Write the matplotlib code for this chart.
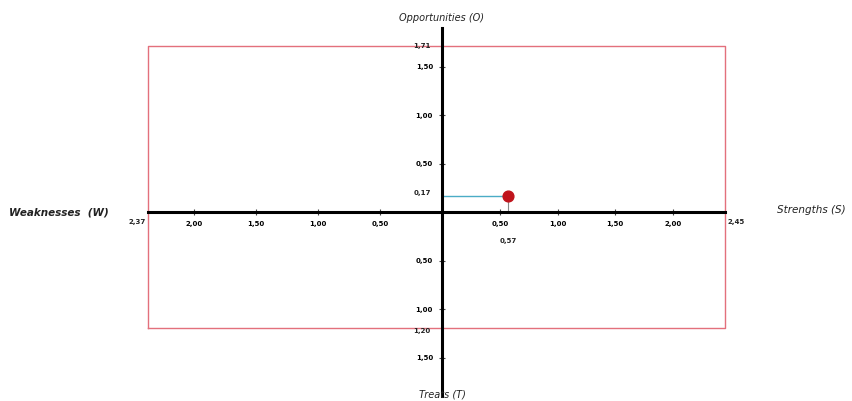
import matplotlib.pyplot as plt
import numpy as np

# SWOT position values
x_left, x_right = -2.37, 2.45      # W / S extremes
y_bottom, y_top = -1.20, 1.71      # T / O extremes
point_x, point_y = 0.57, 0.17
x_ticks = [-2.0, -1.5, -1.0, -0.5, 0.5, 1.0, 1.5, 2.0]
y_ticks = [-1.5, -1.0, -0.5, 0.5, 1.0, 1.5]

# left half of the x axis is drawn a bit wider than the right half
K = 124 / 115.5


def fwd(x):
    x = np.asarray(x, dtype=float)
    return np.where(x < 0, x * K, x)


def inv(x):
    x = np.asarray(x, dtype=float)
    return np.where(x < 0, x / K, x)


def fmt(v):
    return f"{abs(v):.2f}".replace(".", ",")


fig = plt.figure(figsize=(8.53, 4.01), dpi=100)
ax = fig.add_axes([0, 0, 1, 1])
ax.set_xscale("function", functions=(fwd, inv))
ax.set_xlim(-3.564, 3.558)
ax.set_ylim(-1.948, 2.186)

for s in ["top", "right"]:
    ax.spines[s].set_visible(False)
ax.spines["left"].set_position("zero")
ax.spines["bottom"].set_position("zero")
ax.spines["left"].set_bounds(-1.90, 1.90)
ax.spines["bottom"].set_bounds(x_left, x_right)
ax.spines["left"].set_linewidth(2.2)
ax.spines["bottom"].set_linewidth(2.2)

ax.set_xticks(x_ticks)
ax.set_xticklabels([fmt(v) for v in x_ticks])
ax.set_yticks(y_ticks)
ax.set_yticklabels([fmt(v) for v in y_ticks])
ax.tick_params(axis="both", direction="inout", length=5, width=0.8, color="#444444",
               labelsize=5, pad=4)
for lab in ax.get_xticklabels() + ax.get_yticklabels():
    lab.set_fontweight("bold")

# red frame
ax.plot([x_left, x_right, x_right, x_left, x_left],
        [y_bottom, y_bottom, y_top, y_top, y_bottom],
        color="#e3707c", lw=1.0, zorder=1)

# position point with guide lines
ax.plot([0, point_x], [point_y, point_y], color="#4bacc6", lw=1.0, zorder=2)
ax.plot([point_x, point_x], [0, point_y], color="#888888", lw=0.8, zorder=2)
ax.scatter([point_x], [point_y], s=60, color="#c0141c", zorder=3)

lab_kw = dict(fontsize=5, fontweight="bold", color="#222222")
ax.text(x_left - 0.02, -0.10, fmt(x_left), ha="right", va="center", **lab_kw)
ax.text(x_right + 0.02, -0.10, fmt(x_right), ha="left", va="center", **lab_kw)
ax.text(-0.09, y_top, fmt(y_top), ha="right", va="center", **lab_kw)
ax.text(-0.09, y_bottom - 0.03, fmt(y_bottom), ha="right", va="center", **lab_kw)
ax.text(-0.09, point_y + 0.03, fmt(point_y), ha="right", va="center", **lab_kw)
ax.text(point_x, -0.30, fmt(point_x), ha="center", va="center", **lab_kw)

title_kw = dict(fontsize=7, style="italic", color="#222222")
ax.text(0, 2.0, "Opportunities (O)", ha="center", va="center", **title_kw)
ax.text(0, -1.88, "Treats (T)", ha="center", va="center", **title_kw)
ax.text(-3.09, 0.0, "Weaknesses  (W)", ha="center", va="center", fontweight="bold",
        fontsize=7.5, style="italic", color="#222222")
ax.text(3.2, 0.02, "Strengths (S)", ha="center", va="center",
        fontsize=7.5, style="italic", color="#222222")

fig.savefig("out.png", dpi=100)
